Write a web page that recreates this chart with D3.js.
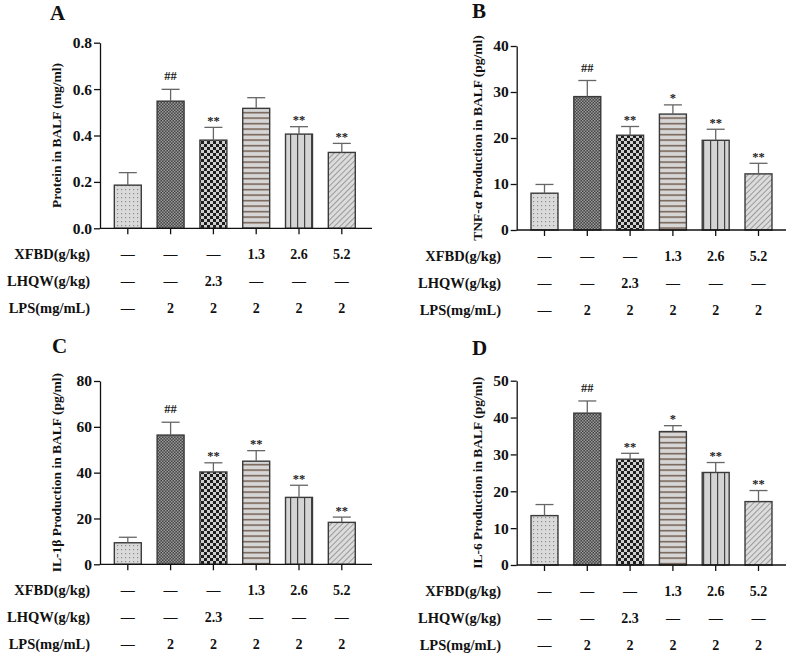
<!DOCTYPE html>
<html><head><meta charset="utf-8">
<script src="https://cdn.jsdelivr.net/npm/d3@7"></script>
<style>
body{margin:0;background:#fff;}
svg{display:block;}
text{font-family:"Liberation Serif","Times New Roman",serif;font-weight:bold;fill:#111;}
</style></head>
<body>
<svg id="chart" width="790" height="657"></svg>
<script>
// ---------- DATA ----------
const groups = ["Control", "LPS", "LHQW", "XFBD-L", "XFBD-M", "XFBD-H"];

const proteinMean = [0.186, 0.548, 0.380, 0.517, 0.406, 0.327];
const proteinErr  = [0.054, 0.051, 0.055, 0.046, 0.032, 0.039];
const proteinSig  = ["", "##", "**", "", "**", "**"];

const tnfMean = [8.0, 29.0, 20.6, 25.2, 19.5, 12.2];
const tnfErr  = [1.9, 3.5, 1.9, 2.0, 2.4, 2.3];
const tnfSig  = ["", "##", "**", "*", "**", "**"];

const il1bMean = [9.4, 56.4, 40.3, 45.0, 29.2, 18.3];
const il1bErr  = [2.4, 5.6, 4.0, 4.6, 5.3, 2.3];
const il1bSig  = ["", "##", "**", "**", "**", "**"];

const il6Mean = [13.4, 41.2, 28.7, 36.2, 25.1, 17.2];
const il6Err  = [3.0, 3.3, 1.6, 1.6, 2.7, 3.0];
const il6Sig  = ["", "##", "**", "*", "**", "**"];

const proteinTicks = [0, 0.2, 0.4, 0.6, 0.8];
const tnfTicks = [0, 10, 20, 30, 40];
const il1bTicks = [0, 20, 40, 60, 80];
const il6Ticks = [0, 10, 20, 30, 40, 50];

const rowLabels = ["XFBD(g/kg)", "LHQW(g/kg)", "LPS(mg/mL)"];
const xfbdRow = ["—", "—", "—", "1.3", "2.6", "5.2"];
const lhqwRow = ["—", "—", "2.3", "—", "—", "—"];
const lpsRow  = ["—", "2", "2", "2", "2", "2"];

// ---------- DRAW ----------
const svg = d3.select("#chart");
const defs = svg.append("defs");

function pat(id, w, h, build) {
  const p = defs.append("pattern").attr("id", id).attr("patternUnits", "userSpaceOnUse")
    .attr("width", w).attr("height", h);
  build(p);
}
pat("p0", 4, 4, p => {
  p.append("rect").attr("width", 4).attr("height", 4).attr("fill", "#dadada");
  p.append("rect").attr("x", 1).attr("y", 1).attr("width", 1.2).attr("height", 1.2).attr("fill", "#8c8c8c");
});
pat("p1", 3, 3, p => {
  p.append("rect").attr("width", 3).attr("height", 3).attr("fill", "#454545");
  p.append("rect").attr("x", 0).attr("y", 0).attr("width", 1.5).attr("height", 1.5).attr("fill", "#9a9a9a");
  p.append("rect").attr("x", 1.5).attr("y", 1.5).attr("width", 1.5).attr("height", 1.5).attr("fill", "#9a9a9a");
});
pat("p2", 6, 6, p => {
  p.append("rect").attr("width", 6).attr("height", 6).attr("fill", "#cfcfcf");
  p.append("rect").attr("x", 0).attr("y", 0).attr("width", 3).attr("height", 3).attr("fill", "#1e1e1e");
  p.append("rect").attr("x", 3).attr("y", 3).attr("width", 3).attr("height", 3).attr("fill", "#1e1e1e");
});
pat("p3", 6, 5.5, p => {
  p.append("rect").attr("width", 6).attr("height", 5.5).attr("fill", "#d6d6d6");
  p.append("rect").attr("x", 0).attr("y", 2).attr("width", 6).attr("height", 1.3).attr("fill", "#654c3c");
});
pat("p4", 7, 6, p => {
  p.append("rect").attr("width", 7).attr("height", 6).attr("fill", "#d4d4d4");
  p.append("rect").attr("x", 3).attr("y", 0).attr("width", 1.2).attr("height", 6).attr("fill", "#444");
});
pat("p5", 4, 4, p => {
  p.attr("patternTransform", "rotate(45)");
  p.append("rect").attr("width", 4).attr("height", 4).attr("fill", "#dcdcdc");
  p.append("rect").attr("x", 0).attr("y", 0).attr("width", 1).attr("height", 4).attr("fill", "#9a9a9a");
});
const fills = ["url(#p0)", "url(#p1)", "url(#p2)", "url(#p3)", "url(#p4)", "url(#p5)"];

const panels = [
  {letter: "A", lx: 50, ly: 20, ax: 100, top: 42.7, bottom: 228.3, axEnd: 372, mean: proteinMean, err: proteinErr, sig: proteinSig,
   ticks: proteinTicks, max: 0.8, fmt: d3.format(".1f"), title: "Protein in BALF (mg/ml)", tx: 61, labEnd: 90},
  {letter: "B", lx: 472, ly: 18, ax: 516.7, top: 46, bottom: 230, axEnd: 786, mean: tnfMean, err: tnfErr, sig: tnfSig,
   ticks: tnfTicks, max: 40, fmt: d3.format("d"), title: "TNF-α Production in BALF (pg/ml)", tx: 482, labEnd: 501},
  {letter: "C", lx: 52, ly: 353, ax: 100, top: 381, bottom: 564.3, axEnd: 372, mean: il1bMean, err: il1bErr, sig: il1bSig,
   ticks: il1bTicks, max: 80, fmt: d3.format("d"), title: "IL-1β Production in BALF (pg/ml)", tx: 61, labEnd: 90},
  {letter: "D", lx: 472, ly: 355, ax: 516.7, top: 380.7, bottom: 565, axEnd: 786, mean: il6Mean, err: il6Err, sig: il6Sig,
   ticks: il6Ticks, max: 50, fmt: d3.format("d"), title: "IL-6 Production in BALF (pg/ml)", tx: 482, labEnd: 501}
];

panels.forEach(P => {
  const g = svg.append("g");
  const x = d3.scaleBand().domain(groups)
    .range([P.ax + 6.4, P.ax + 6.4 + 256.8]).paddingInner(0.37).paddingOuter(0.185);
  const y = d3.scaleLinear().domain([0, P.max]).range([P.bottom, P.top]);

  g.append("text").attr("x", P.lx).attr("y", P.ly).attr("font-size", 21).text(P.letter);

  g.append("text").attr("transform", `translate(${P.tx},${(P.top + P.bottom) / 2}) rotate(-90)`)
    .attr("text-anchor", "middle").attr("font-size", 13.5).text(P.title);

  g.selectAll("rect.bar").data(groups).join("rect").attr("class", "bar")
    .attr("x", d => x(d)).attr("width", x.bandwidth())
    .attr("y", (d, i) => y(P.mean[i])).attr("height", (d, i) => y(0) - y(P.mean[i]))
    .attr("fill", (d, i) => fills[i]).attr("stroke", "#3a3a3a").attr("stroke-width", 1.4);

  groups.forEach((d, i) => {
    const cx = x(d) + x.bandwidth() / 2;
    const yt = y(P.mean[i] + P.err[i]);
    g.append("line").attr("x1", cx).attr("x2", cx).attr("y1", y(P.mean[i])).attr("y2", yt)
      .attr("stroke", "#666").attr("stroke-width", 1.3);
    g.append("line").attr("x1", cx - 9).attr("x2", cx + 9).attr("y1", yt).attr("y2", yt)
      .attr("stroke", "#666").attr("stroke-width", 1.3);
    if (P.sig[i]) {
      const off = P.sig[i].includes("#") ? 9 : 2.5;
      g.append("text").attr("x", cx).attr("y", yt - off).attr("text-anchor", "middle")
        .attr("font-size", 12.5).style("fill", "#222").text(P.sig[i]);
    }
  });

  const yAxis = d3.axisLeft(y).tickValues(P.ticks).tickFormat(P.fmt).tickSize(6).tickPadding(2).tickSizeOuter(0);
  const ya = g.append("g").attr("transform", `translate(${P.ax},0)`).call(yAxis);
  ya.select(".domain").attr("stroke", "#111").attr("stroke-width", 1.3);
  ya.selectAll(".tick line").attr("stroke", "#111").attr("stroke-width", 1.3);
  ya.selectAll(".tick text").attr("font-size", 15.5).attr("font-family", "Liberation Serif, serif")
    .attr("font-weight", "bold").attr("fill", "#111");

  g.append("line").attr("x1", P.ax).attr("x2", P.axEnd).attr("y1", P.bottom).attr("y2", P.bottom)
    .attr("stroke", "#111").attr("stroke-width", 1.3);
  g.selectAll("line.xt").data(groups).join("line").attr("class", "xt")
    .attr("x1", d => x(d) + x.bandwidth() / 2).attr("x2", d => x(d) + x.bandwidth() / 2)
    .attr("y1", P.bottom).attr("y2", P.bottom + 6).attr("stroke", "#111").attr("stroke-width", 1.3);

  const rows = [xfbdRow, lhqwRow, lpsRow];
  const rowY = [31, 58, 85];
  rows.forEach((row, r) => {
    const yy = P.bottom + rowY[r];
    g.append("text").attr("x", P.labEnd).attr("y", yy).attr("text-anchor", "end")
      .attr("font-size", 14.5).text(rowLabels[r]);
    g.selectAll(null).data(groups).join("text")
      .attr("x", d => x(d) + x.bandwidth() / 2).attr("y", yy).attr("text-anchor", "middle")
      .attr("font-size", 14).text((d, i) => row[i]);
  });
});
</script>
</body></html>
